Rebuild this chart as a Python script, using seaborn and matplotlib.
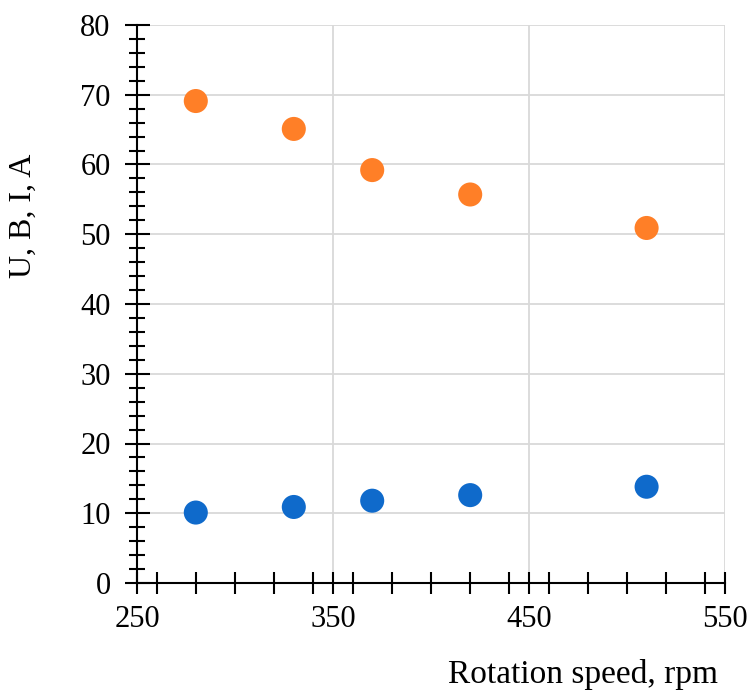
import matplotlib
matplotlib.use("Agg")
import matplotlib.pyplot as plt
from matplotlib.ticker import MultipleLocator, FixedLocator
import seaborn as sns
import pandas as pd

# Data
speed = [280, 330, 370, 420, 510]
series_u = [69.1, 65.1, 59.2, 55.7, 50.9]
series_i = [10.1, 10.9, 11.8, 12.6, 13.8]
series_names = ["U, B", "I, A"]
x_ticks = [250, 350, 450, 550]
y_ticks = [0, 10, 20, 30, 40, 50, 60, 70, 80]

df = pd.DataFrame({
    "speed": speed * 2,
    "value": series_u + series_i,
    "series": [series_names[0]] * len(speed) + [series_names[1]] * len(speed),
})

sns.set_style("white")
plt.rcParams["font.family"] = ["Liberation Serif", "DejaVu Serif"]

fig = plt.figure(figsize=(7.48, 6.91), dpi=100)
ax = fig.add_axes([137 / 748, 1 - 583 / 691, (725 - 137) / 748, (583 - 25) / 691])

sns.scatterplot(data=df, x="speed", y="value", hue="series",
                palette={series_names[0]: "#FF7F27", series_names[1]: "#0F6ACB"},
                s=300, edgecolor="none", legend=False, ax=ax, zorder=3, clip_on=False)

ax.set_xlim(250, 550)
ax.set_ylim(0, 80)
ax.xaxis.set_major_locator(FixedLocator(x_ticks))
ax.xaxis.set_minor_locator(MultipleLocator(20))
ax.yaxis.set_major_locator(FixedLocator(y_ticks))
ax.yaxis.set_minor_locator(MultipleLocator(2))

ax.grid(True, which="major", color="#D9D9D9", linewidth=1.3)
ax.set_axisbelow(True)
for s in ["top", "right"]:
    ax.spines[s].set_visible(False)
for s in ["left", "bottom"]:
    ax.spines[s].set_color("black")
    ax.spines[s].set_linewidth(1.5)

ax.tick_params(axis="x", which="both", direction="inout", length=16, width=1.5,
               color="black", labelsize=22, pad=8, bottom=True)
ax.tick_params(axis="y", which="major", direction="inout", length=18, width=1.5,
               color="black", labelsize=22, pad=10, left=True)
ax.tick_params(axis="y", which="minor", direction="inout", length=12, width=1.5,
               color="black", left=True)
for lbl in ax.get_xticklabels() + ax.get_yticklabels():
    lbl.set_color("black")

ax.set_xlabel("")
ax.set_ylabel("")
fig.text(583 / 748, 1 - 675 / 691, "Rotation speed, rpm", ha="center", va="center",
         fontsize=24, color="black")
fig.text(23 / 748, 1 - 216 / 691, "U, B, I, A", ha="center", va="center",
         rotation=90, fontsize=23, color="black")

fig.savefig("out.png", dpi=100)
